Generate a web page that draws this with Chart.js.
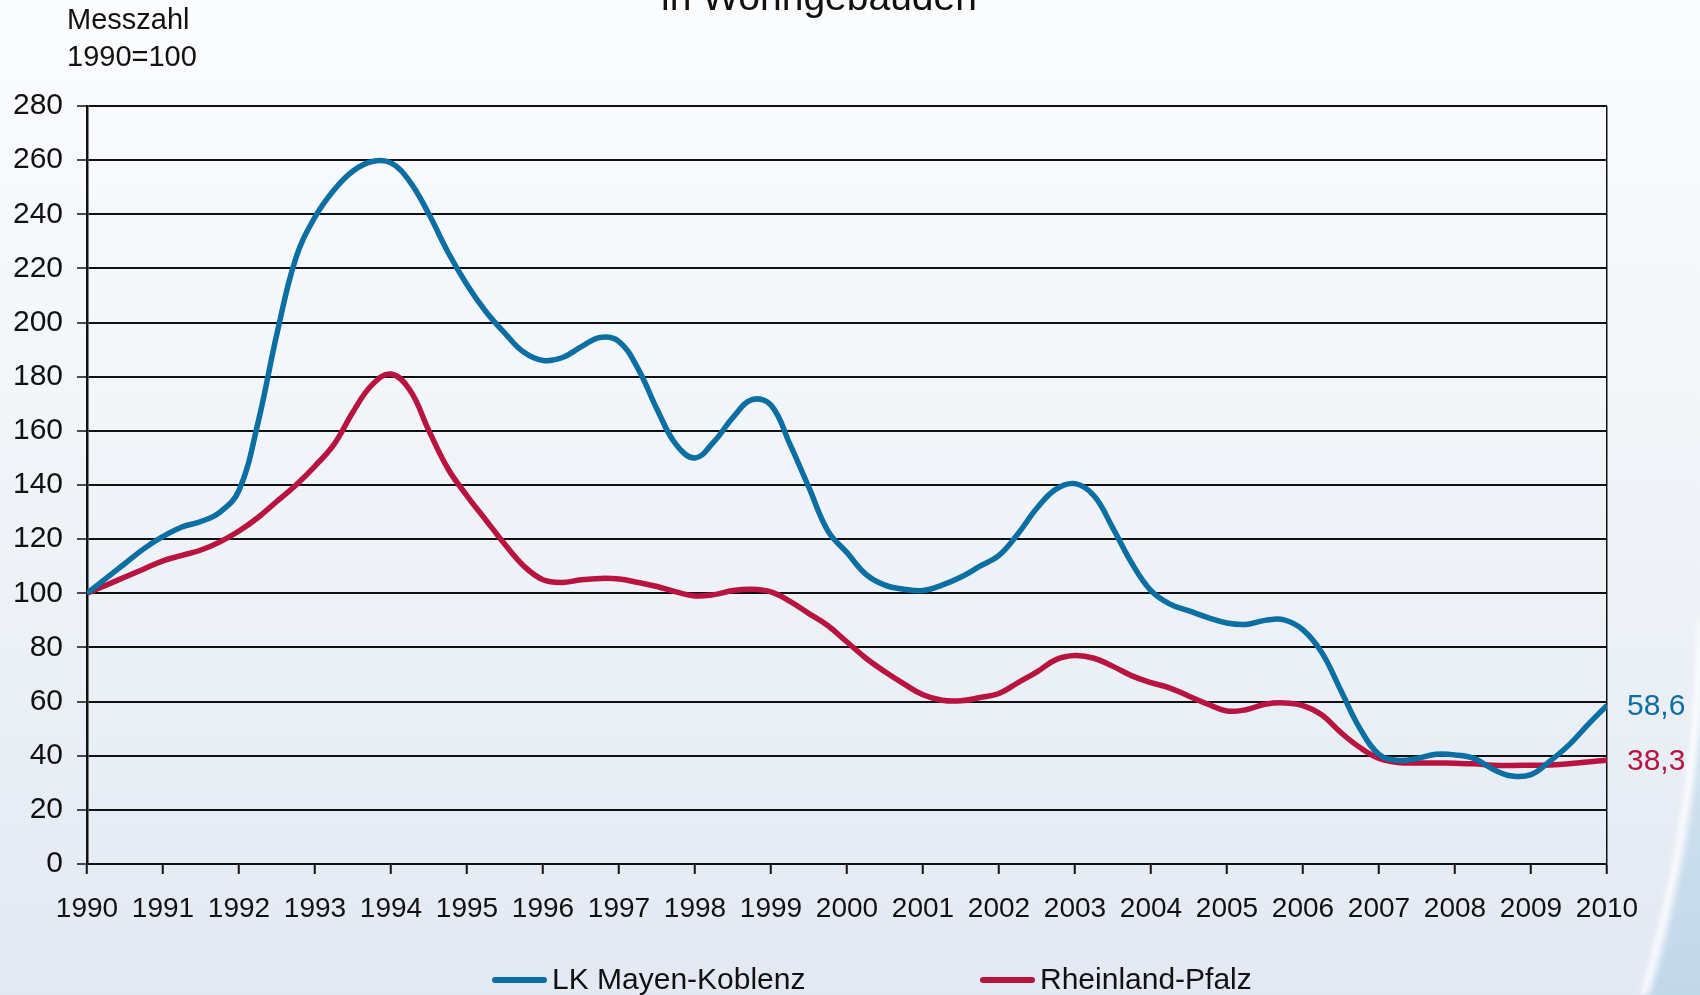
<!DOCTYPE html>
<html lang="de">
<head>
<meta charset="utf-8">
<title>Messzahl 1990=100</title>
<script src="https://cdn.jsdelivr.net/npm/chart.js@4.4.1/dist/chart.umd.min.js"></script>
<style>
  html, body { margin: 0; padding: 0; background: #eef3f8; }
  #wrap { width: 1700px; height: 995px; }
</style>
</head>
<body>
<div id="wrap"><canvas id="chart" width="1700" height="995"></canvas></div>
<script>
// Quarterly index values, 1990 = 100
const quarters = [
  1990, 1990.25, 1990.5, 1990.75, 1991, 1991.25, 1991.5, 1991.75,
  1992, 1992.25, 1992.5, 1992.75, 1993, 1993.25, 1993.5, 1993.75,
  1994, 1994.25, 1994.5, 1994.75, 1995, 1995.25, 1995.5, 1995.75,
  1996, 1996.25, 1996.5, 1996.75, 1997, 1997.25, 1997.5, 1997.75,
  1998, 1998.25, 1998.5, 1998.75, 1999, 1999.25, 1999.5, 1999.75,
  2000, 2000.25, 2000.5, 2000.75, 2001, 2001.25, 2001.5, 2001.75,
  2002, 2002.25, 2002.5, 2002.75, 2003, 2003.25, 2003.5, 2003.75,
  2004, 2004.25, 2004.5, 2004.75, 2005, 2005.25, 2005.5, 2005.75,
  2006, 2006.25, 2006.5, 2006.75, 2007, 2007.25, 2007.5, 2007.75,
  2008, 2008.25, 2008.5, 2008.75, 2009, 2009.25, 2009.5, 2009.75,
  2010
];

const mayenKoblenz = [
  100, 105.5, 111, 116.5, 121, 124.5, 126.5, 130,
  138, 163, 196, 224, 239, 249, 256, 259.5,
  259, 252, 240, 226, 214, 204, 196, 189,
  186, 187, 191, 194.5, 193, 183, 168, 155,
  150, 156, 165, 171.5, 169.5, 155, 139, 123,
  115, 107, 103, 101.5, 101, 103, 106, 110,
  114, 122, 131.5, 138.5, 140.5, 136, 124, 111,
  101, 96, 93.5, 91, 89, 88.5, 90, 90.2,
  86.5, 78, 64, 50, 40.5, 38.3, 39, 40.5,
  40.3, 39, 35, 32.5, 33, 38, 44, 51.5,
  58.6
];

const rheinlandPfalz = [
  100, 103, 106, 109, 112, 114, 116, 119,
  123, 128, 134, 140, 147, 155, 167, 177,
  181, 175, 160, 146, 136, 127, 118, 110,
  105, 104, 105, 105.5, 105.3, 104, 102.5, 100.5,
  99, 99.5, 101, 101.5, 100.5, 97, 92.5, 88,
  82, 76, 71, 66.5, 62.5, 60.5, 60.3, 61.5,
  63, 67, 71, 75.5, 77, 76, 73, 69.5,
  67, 65, 62, 59, 56.5, 57, 59, 59.5,
  58.5, 55, 48.5, 43, 39, 37.5, 37.3, 37.3,
  37.2, 37, 36.5, 36.4, 36.5, 36.6, 37, 37.7,
  38.3
];

const seriesNames = ['LK Mayen-Koblenz', 'Rheinland-Pfalz'];
const seriesColors = ['#0b6fa3', '#b8143f'];
const FONT = '"Liberation Sans", Arial, sans-serif';

function toPoints(vals) {
  return vals.map((v, i) => ({ x: quarters[i], y: v }));
}

// page background and the bright swoosh at the lower right
const backgroundPlugin = {
  id: 'background',
  beforeDraw(chart) {
    const { ctx, width, height } = chart;
    ctx.save();
    const g = ctx.createLinearGradient(0, 0, 0, height);
    g.addColorStop(0, '#fbfcfe');
    g.addColorStop(0.45, '#f1f5f9');
    g.addColorStop(1, '#e2e9f2');
    ctx.fillStyle = g;
    ctx.fillRect(0, 0, width, height);

    ctx.beginPath();
    ctx.moveTo(1702, 620);
    ctx.bezierCurveTo(1698, 780, 1675, 890, 1645, 995);
    ctx.lineTo(1700, 995);
    ctx.closePath();
    const g2 = ctx.createLinearGradient(0, 620, 0, 995);
    g2.addColorStop(0, 'rgba(200,220,236,0)');
    g2.addColorStop(0.35, '#d0e1ee');
    g2.addColorStop(1, '#c1d8ea');
    ctx.fillStyle = g2;
    ctx.fill();

    ctx.beginPath();
    ctx.moveTo(1702, 620);
    ctx.bezierCurveTo(1698, 780, 1675, 890, 1645, 995);
    ctx.strokeStyle = 'rgba(255,255,255,0.9)';
    ctx.lineWidth = 8;
    ctx.filter = 'blur(3px)';
    ctx.stroke();
    ctx.restore();
  }
};

// title fragment and the y axis caption
const textPlugin = {
  id: 'texts',
  afterDraw(chart) {
    const { ctx } = chart;
    ctx.save();
    ctx.fillStyle = '#111';
    ctx.textAlign = 'center';
    ctx.textBaseline = 'alphabetic';
    ctx.font = '39px ' + FONT;
    ctx.fillText('in Wohngebäuden', 819, 10);

    ctx.textAlign = 'left';
    ctx.font = '29px ' + FONT;
    ctx.fillText('Messzahl', 67, 29);
    ctx.fillText('1990=100', 67, 66);
    ctx.restore();
  }
};

// last value written next to the end of each line
const endLabelPlugin = {
  id: 'endLabels',
  afterDatasetsDraw(chart) {
    const { ctx } = chart;
    ctx.save();
    ctx.font = '30px ' + FONT;
    ctx.textAlign = 'left';
    ctx.textBaseline = 'middle';
    chart.data.datasets.forEach((ds, i) => {
      const meta = chart.getDatasetMeta(i);
      const last = meta.data[meta.data.length - 1];
      const val = ds.data[ds.data.length - 1].y;
      ctx.fillStyle = ds.borderColor;
      ctx.fillText(val.toFixed(1).replace('.', ','), last.x + 20, last.y + 1);
    });
    ctx.restore();
  }
};

// legend row at the bottom
const legendPlugin = {
  id: 'bottomLegend',
  afterDraw(chart) {
    const { ctx } = chart;
    const starts = [492, 980];
    ctx.save();
    ctx.font = '30px ' + FONT;
    ctx.textBaseline = 'middle';
    ctx.textAlign = 'left';
    chart.data.datasets.forEach((ds, i) => {
      const x = starts[i];
      const y = 980;
      ctx.strokeStyle = ds.borderColor;
      ctx.lineWidth = 6;
      ctx.lineCap = 'round';
      ctx.beginPath();
      ctx.moveTo(x + 3, y);
      ctx.lineTo(x + 52, y);
      ctx.stroke();
      ctx.fillStyle = '#111';
      ctx.fillText(ds.label, x + 60, y + 1);
    });
    ctx.restore();
  }
};

new Chart(document.getElementById('chart'), {
  type: 'line',
  data: {
    datasets: [
      {
        label: seriesNames[0],
        data: toPoints(mayenKoblenz),
        borderColor: seriesColors[0],
        borderWidth: 5.5,
        pointRadius: 0,
        tension: 0.4,
        fill: false
      },
      {
        label: seriesNames[1],
        data: toPoints(rheinlandPfalz),
        borderColor: seriesColors[1],
        borderWidth: 5.5,
        pointRadius: 0,
        tension: 0.4,
        fill: false
      }
    ]
  },
  options: {
    responsive: false,
    animation: false,
    devicePixelRatio: 1,
    layout: { padding: { top: 106, right: 93, left: 0, bottom: 0 } },
    plugins: {
      legend: { display: false },
      tooltip: { enabled: false }
    },
    scales: {
      x: {
        type: 'linear',
        min: 1990,
        max: 2010,
        afterFit: (s) => { s.height = 131; },
        ticks: {
          stepSize: 1,
          autoSkip: false,
          maxRotation: 0,
          padding: 18,
          color: '#111',
          font: { family: FONT, size: 28 },
          callback: (v) => String(v)
        },
        grid: {
          drawOnChartArea: true,
          color: (c) => (c.tick && c.tick.value === 2010 ? '#111' : 'rgba(0,0,0,0)'),
          lineWidth: 1.5,
          tickColor: '#111',
          tickWidth: 2,
          tickLength: 10
        },
        border: { display: true, color: '#111', width: 2 }
      },
      y: {
        min: 0,
        max: 280,
        afterFit: (s) => { s.width = 87; },
        ticks: {
          stepSize: 20,
          padding: 14,
          color: '#111',
          font: { family: FONT, size: 30 }
        },
        grid: {
          color: '#111',
          lineWidth: 2,
          tickColor: '#111',
          tickWidth: 1.5,
          tickLength: 10
        },
        border: { display: true, color: '#111', width: 2.5 }
      }
    }
  },
  plugins: [backgroundPlugin, textPlugin, endLabelPlugin, legendPlugin]
});
</script>
</body>
</html>
